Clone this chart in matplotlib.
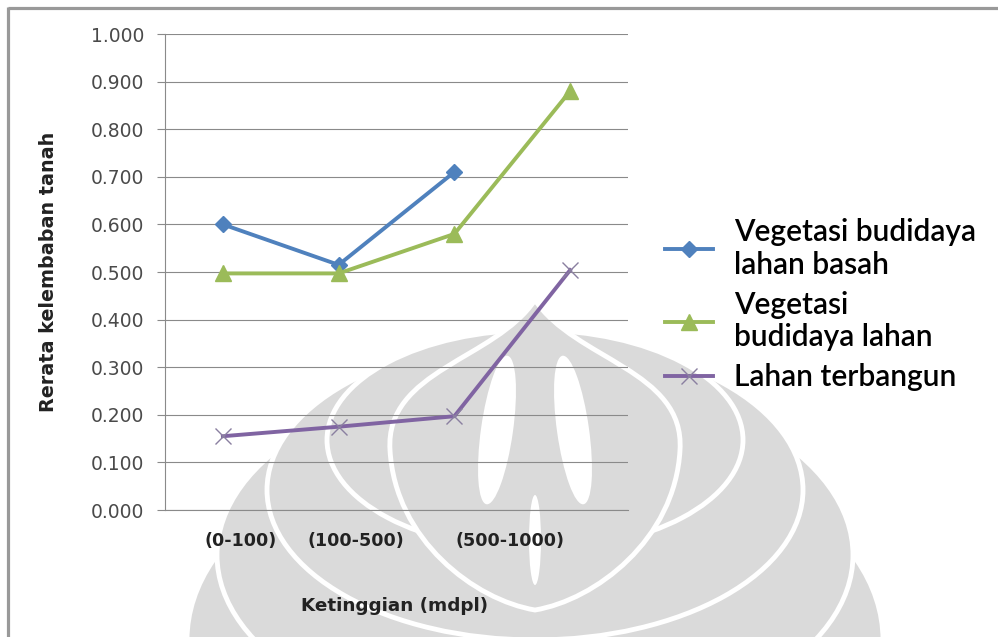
import numpy as np
import matplotlib
matplotlib.use("Agg")
import matplotlib.pyplot as plt
from matplotlib.patches import Ellipse, PathPatch
from matplotlib.path import Path
from matplotlib.ticker import FormatStrFormatter

# mean soil moisture per altitude class
categories = ["(0-100)", "(100-500)", "(500-1000)"]
tick_pos = [0.15, 1.15, 2.48]
wetland = [0.600, 0.515, 0.710, np.nan]
dryland = [0.497, 0.497, 0.580, 0.880]
built_up = [0.155, 0.175, 0.197, 0.504]
series_labels = ["Vegetasi budidaya\nlahan basah",
                 "Vegetasi\nbudidaya lahan",
                 "Lahan terbangun"]

W, H = 998, 637
fig = plt.figure(figsize=(W / 100, H / 100), dpi=100)

# background layer in pixel units: frame and faint logo watermark
bg = fig.add_axes([0, 0, 1, 1], zorder=0)
bg.set_xlim(0, W)
bg.set_ylim(H, 0)
bg.axis("off")

grey = "#dadada"
cx = 535
for (cy, w, h) in [(640, 696, 420), (555, 636, 360), (490, 536, 300), (440, 416, 220)]:
    bg.add_patch(Ellipse((cx, cy), w, h, facecolor=grey, edgecolor="white", linewidth=3.5))

bulb = Path([(cx, 300), (cx + 40, 360), (cx + 150, 370), (cx + 145, 450),
             (cx + 140, 540), (cx + 60, 600), (cx, 610),
             (cx - 60, 600), (cx - 140, 540), (cx - 145, 450),
             (cx - 150, 370), (cx - 40, 360), (cx, 300)],
            [Path.MOVETO, Path.CURVE4, Path.CURVE4, Path.CURVE4,
             Path.CURVE4, Path.CURVE4, Path.CURVE4,
             Path.CURVE4, Path.CURVE4, Path.CURVE4,
             Path.CURVE4, Path.CURVE4, Path.CURVE4])
bg.add_patch(PathPatch(bulb, facecolor=grey, edgecolor="white", linewidth=3.5))
for dx, ang in [(-38, 8), (38, -8)]:
    bg.add_patch(Ellipse((cx + dx, 430), 32, 150, angle=ang, facecolor="white", edgecolor="none"))
bg.add_patch(Ellipse((cx, 540), 12, 90, facecolor="white", edgecolor="none"))

bg.plot([8, W], [7.5, 7.5], color="#999999", linewidth=2.3, solid_capstyle="butt")
bg.plot([8.5, 8.5], [7, H], color="#999999", linewidth=2.3, solid_capstyle="butt")

# main chart
ax = fig.add_axes([165 / W, 1 - 510 / H, 463 / W, 476 / H], zorder=1)
ax.set_facecolor("none")
x = np.arange(4)

ax.plot(x, wetland, color="#4f81bd", linewidth=2.8, marker="D", markersize=8.5,
        label=series_labels[0], zorder=3)
ax.plot(x, dryland, color="#9bbb59", linewidth=2.8, marker="^", markersize=11,
        label=series_labels[1], zorder=3)
ax.plot(x, built_up, color="#8064a2", linewidth=2.8, marker="x", markersize=11,
        markeredgewidth=1.0, markeredgecolor="#8a7fa0", label=series_labels[2], zorder=3)

ax.set_xlim(-0.5, 3.5)
ax.set_ylim(0, 1.0)
ax.set_yticks(np.arange(0, 1.01, 0.1))
ax.yaxis.set_major_formatter(FormatStrFormatter("%.3f"))
ax.grid(axis="y", color="#8a8a8a", linewidth=0.8)
ax.set_axisbelow(True)
for side in ["top", "right"]:
    ax.spines[side].set_visible(False)
for side in ["left", "bottom"]:
    ax.spines[side].set_color("#8a8a8a")
    ax.spines[side].set_linewidth(0.8)

ax.tick_params(axis="y", length=6, width=0.8, color="#8a8a8a", pad=9,
               labelsize=13.5, labelcolor="#4a4a4a")
ax.set_xticks(tick_pos)
ax.set_xticklabels(categories, fontsize=12.6, fontweight="bold", color="#222222")
ax.tick_params(axis="x", length=0, pad=16)

ax.set_xlabel("Ketinggian (mdpl)", fontsize=13.2, fontweight="bold", color="#222222")
ax.xaxis.set_label_coords(230 / 463, -(597 - 510) / 476)
ax.set_ylabel("Rerata kelembaban tanah", fontsize=13.8, fontweight="bold", color="#222222")
ax.yaxis.set_label_coords(-(165 - 58) / 463, 0.5)

ax.legend(loc="upper left", bbox_to_anchor=(665 / W, 1 - 218 / H),
          bbox_transform=fig.transFigure, frameon=False, borderpad=0, borderaxespad=0,
          handlelength=1.6, handletextpad=0.7, labelspacing=0.4,
          prop={"family": "Lato", "weight": 600, "size": 21.5})

fig.savefig("out.png", dpi=100)
